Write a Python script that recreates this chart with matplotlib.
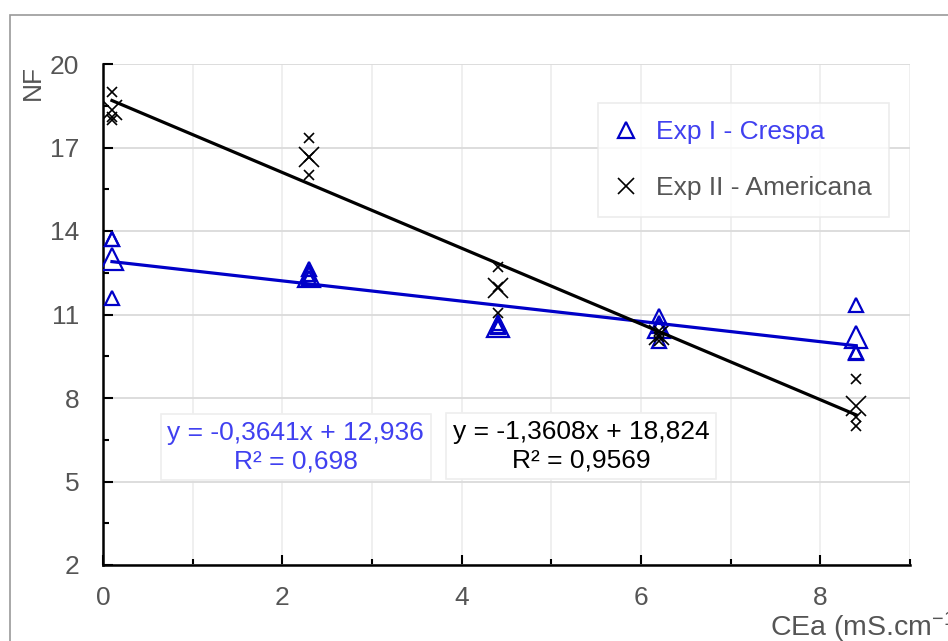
import numpy as np
import matplotlib
matplotlib.use('Agg')
import matplotlib.pyplot as plt
from matplotlib.lines import Line2D
from matplotlib.patches import Rectangle

plt.rcParams['font.family'] = ['Liberation Sans', 'DejaVu Sans']
plt.rcParams['mathtext.default'] = 'regular'

# CEa levels (mS/cm)
cea = [0.1, 2.3, 4.4, 6.2, 8.4]

# Exp I - Crespa: replicates and means
crespa_reps = [[13.7, 13.7, 11.6],
               [12.65, 12.45, 12.3],
               [10.7, 10.6, 10.55],
               [10.95, 10.6, 10.05],
               [11.35, 9.65, 9.6]]
crespa_mean = [13.0, 12.4, 10.6, 10.55, 10.2]

# Exp II - Americana: replicates and means
americ_reps = [[19.0, 18.1, 18.0],
               [17.35, 16.65, 16.0],
               [12.7, 12.0, 11.05],
               [10.4, 10.2, 10.05],
               [8.7, 7.3, 7.0]]
americ_mean = [18.35, 16.65, 11.95, 10.25, 7.7]

# trend lines as reported on the chart
crespa_fit = (-0.3641, 12.936)
americ_fit = (-1.3608, 18.824)

blue = '#0000c8'
blue_txt = '#4040f0'
gray_txt = '#555555'

fig = plt.figure(figsize=(9.48, 6.41), dpi=100)
ax = fig.add_axes([103/948, 1-565/641, (910-103)/948, (565-64)/641])

for x, reps in zip(cea, crespa_reps):
    ax.plot([x]*len(reps), reps, ls='none', marker='^', ms=10.5, mfc='none',
            mec=blue, mew=1.6, zorder=3)
ax.plot(cea, crespa_mean, ls='none', marker='^', ms=15.5, mfc='none',
        mec=blue, mew=1.6, zorder=3)
for x, reps in zip(cea, americ_reps):
    ax.plot([x]*len(reps), reps, ls='none', marker='x', ms=7.5,
            color='black', mew=1.2, zorder=3)
ax.plot(cea, americ_mean, ls='none', marker='x', ms=14, color='black',
        mew=1.2, zorder=3)

xl = np.array([cea[0], cea[-1]])
ax.plot(xl, crespa_fit[0]*xl + crespa_fit[1], color=blue, lw=2.3, zorder=4)
ax.plot(xl, americ_fit[0]*xl + americ_fit[1], color='black', lw=2.3, zorder=4)

ax.set_xlim(0, 9)
ax.set_ylim(2, 20)
ax.set_xticks([0, 2, 4, 6, 8])
ax.set_xticks([1, 3, 5, 7, 9], minor=True)
ax.set_yticks([2, 5, 8, 11, 14, 17, 20])
ax.set_yticks([3.5, 6.5, 9.5, 12.5, 15.5, 18.5], minor=True)
ax.grid(axis='y', which='major', color='#dadada', lw=1.3, zorder=0)
ax.grid(axis='x', which='both', color='#eeeeee', lw=1.3, zorder=0)
ax.set_axisbelow(True)
for s in ['top', 'right']:
    ax.spines[s].set_visible(False)
for s in ['left', 'bottom']:
    ax.spines[s].set_linewidth(1.8)
ax.tick_params(which='major', direction='in', length=7, width=1.5,
               labelsize=19, labelcolor=gray_txt)
ax.tick_params(which='minor', direction='in', length=4.5, width=1.5)
ax.tick_params(axis='y', pad=17)
ax.tick_params(axis='x', pad=15)

ax.text(2.15, 6.24, 'y = -0,3641x + 12,936\nR² = 0,698', color=blue_txt,
        fontsize=19, ha='center', va='center', multialignment='center',
        linespacing=1.25, zorder=5,
        bbox=dict(boxstyle='square,pad=0.25', fc='white', ec='#eeeeee', lw=1.2))
ax.text(5.33, 6.27, 'y = -1,3608x + 18,824\nR² = 0,9569', color='black',
        fontsize=19, ha='center', va='center', multialignment='center',
        linespacing=1.25, zorder=5,
        bbox=dict(boxstyle='square,pad=0.25', fc='white', ec='#eeeeee', lw=1.2))

handles = [Line2D([], [], ls='none', marker='^', ms=12, mfc='none', mec=blue, mew=1.6),
           Line2D([], [], ls='none', marker='x', ms=12, color='black', mew=1.2)]
leg = fig.legend(handles, ['Exp I - Crespa', 'Exp II - Americana'],
                 loc='upper left', bbox_to_anchor=(598/948, 1-103/641),
                 fontsize=19, frameon=True, fancybox=False, borderpad=0.65,
                 handlelength=0.8, handletextpad=0.76, labelspacing=1.2,
                 borderaxespad=0)
leg.get_frame().set_edgecolor('#e8e8e8')
leg.get_frame().set_linewidth(1.2)
leg.get_texts()[0].set_color(blue_txt)
leg.get_texts()[1].set_color(gray_txt)

fig.text(33/948, 1-83/641, 'NF', rotation=90, fontsize=19, color=gray_txt,
         ha='center', va='center')
# axis title runs past the right edge, as in the original
fig.text(770/948, 1-627/641, 'CEa (mS.cm$^{-1}$)', fontsize=20.5, color=gray_txt,
         ha='left', va='center')

fig.patches.append(Rectangle((9.5/948, -0.1), 1.2, 0.1 + 1-15.5/641,
                             transform=fig.transFigure, fill=False,
                             ec='#999999', lw=1.2, clip_on=False))

fig.savefig('out.png', dpi=100)
